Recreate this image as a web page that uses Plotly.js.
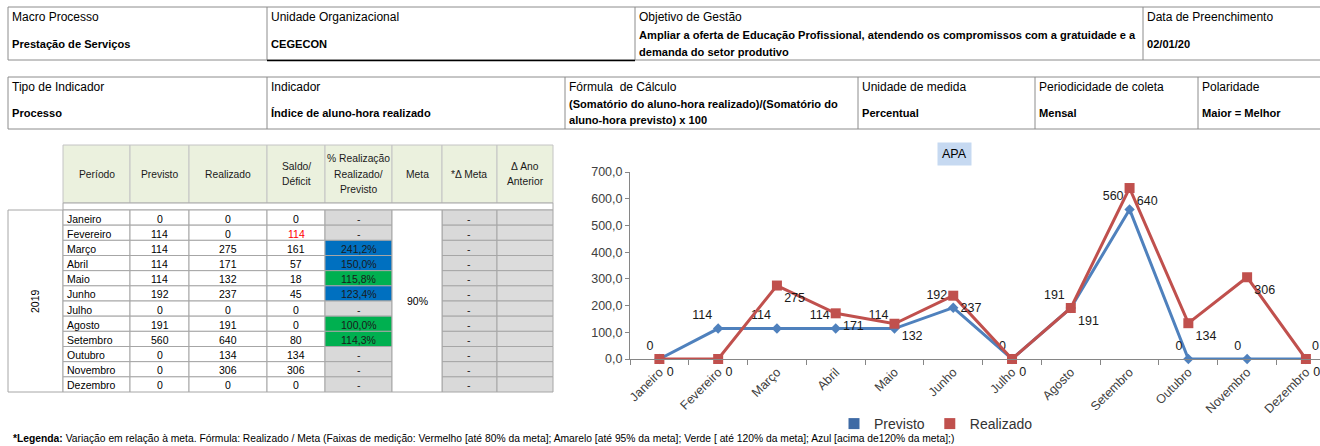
<!DOCTYPE html>
<html><head><meta charset="utf-8">
<script src="https://cdn.plot.ly/plotly-3.0.1.min.js"></script>
<style>html,body{margin:0;padding:0;background:#fff;overflow:hidden}#chart{width:1320px;height:446px}</style>
</head><body><div id="chart"></div>
<script>
// ---------- DATA ----------
const meses = ['Janeiro','Fevereiro','Março','Abril','Maio','Junho','Julho','Agosto','Setembro','Outubro','Novembro','Dezembro'];
const previsto  = [0,114,114,114,114,192,0,191,560,0,0,0];
const realizado = [0,0,275,171,132,237,0,191,640,134,306,0];
const saldo     = [0,114,161,57,18,45,0,0,80,134,306,0];
const saldoDeficit = [false,true,false,false,false,false,false,false,false,false,false,false];
const metaTexto = '90%';
const anoTexto = '2019';
const tituloGrafico = 'APA';
const nomesSeries = ['Previsto','Realizado'];
const cabecalhoTabela = [['Período'],['Previsto'],['Realizado'],['Saldo/','Déficit'],['% Realização','Realizado/','Previsto'],['Meta'],['*Δ Meta'],['Δ Ano','Anterior']];
const tabela1Rotulos = ['Macro Processo','Unidade Organizacional','Objetivo de Gestão','Data de Preenchimento'];
const tabela1Valores = [['Prestação de Serviços'],['CEGECON'],['Ampliar a oferta de Educação Profissional, atendendo os compromissos com a gratuidade e a','demanda do setor produtivo'],['02/01/20']];
const tabela2Rotulos = ['Tipo de Indicador','Indicador','Fórmula  de Cálculo','Unidade de medida','Periodicidade de coleta','Polaridade'];
const tabela2Valores = [['Processo'],['Índice de aluno-hora realizado'],['(Somatório do aluno-hora realizado)/(Somatório do','aluno-hora previsto) x 100'],['Percentual'],['Mensal'],['Maior = Melhor']];
const notaRodape = '<b>*Legenda:</b> Variação em relação à meta. Fórmula: Realizado / Meta (Faixas de medição: Vermelho [até 80% da meta]; Amarelo [até 95% da meta]; Verde [ até 120% da meta]; Azul [acima de120% da meta];)';

// ---------- LAYOUT HELPERS ----------
const W = 1320, H = 446;
const FONT = 'Liberation Sans, Arial, sans-serif';
const px = x => x / W;
const py = y => 1 - y / H;
const shapes = [];
const annotations = [];
function rect(x0, y0, x1, y1, fill, line, lw) {
  shapes.push({type:'rect', xref:'paper', yref:'paper', x0:px(x0), x1:px(x1), y0:py(y1), y1:py(y0),
    fillcolor: fill || 'rgba(0,0,0,0)', line:{color: line || 'rgba(0,0,0,0)', width: lw === undefined ? 1 : lw}, layer:'below'});
}
function hline(x0, x1, y, color, lw) {
  shapes.push({type:'line', xref:'paper', yref:'paper', x0:px(x0), x1:px(x1), y0:py(y), y1:py(y), line:{color, width:lw||1}, layer:'below'});
}
function vline(x, y0, y1, color, lw) {
  shapes.push({type:'line', xref:'paper', yref:'paper', x0:px(x), x1:px(x), y0:py(y0), y1:py(y1), line:{color, width:lw||1}, layer:'below'});
}
function txt(x, y, text, o) {
  o = o || {};
  const a = {xref:'paper', yref:'paper', x:px(x), y:py(y), text, showarrow:false,
    xanchor:o.xa || 'left', yanchor:'middle', align:o.align || 'left', textangle:o.angle || 0,
    font:{family:FONT, size:o.size || 11, color:o.color || '#000'}};
  annotations.push(a);
  return a;
}

// ---------- TOP TABLES ----------
const bordaTopo = '#8c8c8c';
const t1 = [8, 267, 635, 1143, 1330];
rect(8, 7, 1330, 60, null, bordaTopo, 1);
for (let i = 1; i < t1.length - 1; i++) vline(t1[i], 7, 60, bordaTopo, 1);
hline(267, 635, 60.5, '#000', 1.6);
tabela1Rotulos.forEach((t, i) => txt(t1[i] + 2, 17, t, {size:12}));
tabela1Valores.forEach((v, i) => {
  if (v.length === 1) txt(t1[i] + 2, 44, '<b>' + v[0] + '</b>', {size:11.1});
  else v.forEach((l, k) => txt(t1[i] + 2, 35 + k * 17, '<b>' + l + '</b>', {size:11.1}));
});
const t2 = [8, 267, 565, 858, 1035, 1198, 1330];
rect(8, 77, 1330, 129, null, bordaTopo, 1);
for (let i = 1; i < t2.length - 1; i++) vline(t2[i], 77, 129, bordaTopo, 1);
tabela2Rotulos.forEach((t, i) => txt(t2[i] + 2, 87, t, {size:12}));
tabela2Valores.forEach((v, i) => {
  if (v.length === 1) txt(t2[i] + 2, 113, '<b>' + v[0] + '</b>', {size:11.1});
  else v.forEach((l, k) => txt(t2[i] + 2, 104 + k * 16, '<b>' + l + '</b>', {size:11.1}));
});

// ---------- DATA TABLE ----------
const gc = '#a6a6a6';
const colX = [63, 130, 189, 267, 325, 392, 442, 497, 553];
const hTop = 145, hBot = 203, gBot = 210, bBot = 392;
const rowH = (bBot - gBot) / meses.length;
for (let c = 0; c < 8; c++) rect(colX[c], hTop, colX[c + 1], hBot, '#ebf1de', '#c4c4c4', 1);
cabecalhoTabela.forEach((lines, c) => {
  const cx = (colX[c] + colX[c + 1]) / 2;
  const n = lines.length, step = 15.5;
  lines.forEach((l, k) => txt(cx, 174 + (k - (n - 1) / 2) * step, l, {xa:'center', size:10.3, color:'#1a1a1a'}));
});
rect(colX[0], hBot, colX[8], gBot, '#fff', gc, 1);
rect(8, gBot, colX[0], bBot, '#fff', gc, 1);
txt(35, (gBot + bBot) / 2, anoTexto, {xa:'center', angle:-90, size:10.5});
meses.forEach((m, r) => {
  const y0 = gBot + r * rowH, y1 = y0 + rowH, yc = (y0 + y1) / 2 + 1;
  for (let c = 0; c < 4; c++) rect(colX[c], y0, colX[c + 1], y1, '#fff', gc, 1);
  let pFill = '#d9d9d9', pTxt = '-';
  if (previsto[r] > 0 && realizado[r] > 0) {
    const p = realizado[r] / previsto[r] * 100;
    pTxt = p.toFixed(1).replace('.', ',') + '%';
    pFill = p > 120 ? '#0070c0' : '#00b050';
  }
  rect(colX[4], y0, colX[5], y1, pFill, gc, 1);
  rect(colX[6], y0, colX[7], y1, '#d9d9d9', gc, 1);
  rect(colX[7], y0, colX[8], y1, '#dcdcdc', gc, 1);
  txt(colX[0] + 2, yc, m, {size:10.5});
  txt((colX[1] + colX[2]) / 2, yc, String(previsto[r]), {xa:'center', size:10.5});
  txt((colX[2] + colX[3]) / 2, yc, String(realizado[r]), {xa:'center', size:10.5});
  txt((colX[3] + colX[4]) / 2, yc, String(saldo[r]), {xa:'center', size:10.5, color: saldoDeficit[r] ? '#ff0000' : '#000'});
  txt((colX[4] + colX[5]) / 2, yc, pTxt, {xa:'center', size:10.5, color:'#1a1a1a'});
  txt((colX[6] + colX[7]) / 2, yc, '-', {xa:'center', size:10.5, color:'#1a1a1a'});
});
rect(colX[5], gBot, colX[6], bBot, '#fff', gc, 1);
txt((colX[5] + colX[6]) / 2, (gBot + bBot) / 2, metaTexto, {xa:'center', size:10.5});

// ---------- CHART ----------
const tit = txt(954, 153.5, tituloGrafico, {xa:'center', size:12.5});
tit.bgcolor = '#c6d9f1';
tit.borderpad = 4;
txt(11, 438.5, notaRodape, {size:10.3});

const azul = '#4f81bd', verm = '#c0504d';
const posPrevisto = meses.map((m, i) => i === meses.length - 1 ? 'top right' : 'top left');
const traces = [
  {x: meses, y: previsto, name: nomesSeries[0], type:'scatter', mode:'lines+markers+text', showlegend:false,
   text: previsto.map(String), textposition: posPrevisto, cliponaxis:false,
   textfont:{family:FONT, size:12.5, color:'#1a1a1a'},
   line:{color:azul, width:3}, marker:{symbol:'diamond', size:8, color:azul}, hoverinfo:'x+y'},
  {x: meses, y: realizado, name: nomesSeries[1], type:'scatter', mode:'lines+markers+text', showlegend:false,
   text: realizado.map(String), textposition:'bottom right', cliponaxis:false,
   textfont:{family:FONT, size:12.5, color:'#1a1a1a'},
   line:{color:verm, width:3}, marker:{symbol:'square', size:10, color:verm}, hoverinfo:'x+y'},
  {x:[null], y:[null], name: nomesSeries[0], type:'scatter', mode:'markers', marker:{symbol:'square', size:11, color:'#3e6aa5'}, showlegend:true},
  {x:[null], y:[null], name: nomesSeries[1], type:'scatter', mode:'markers', marker:{symbol:'square', size:11, color:verm}, showlegend:true}
];

const layout = {
  width: W, height: H, margin:{l:0, r:0, t:0, b:0}, paper_bgcolor:'#fff', plot_bgcolor:'rgba(0,0,0,0)',
  separators: ', ', font:{family:FONT, color:'#404040'},
  xaxis:{type:'category', domain:[px(630), 1], range:[-0.5, 11.24], showgrid:false, zeroline:false,
    showline:true, linecolor:'#868686', linewidth:1, ticks:'outside', tickson:'boundaries', ticklen:5, tickcolor:'#868686',
    tickangle:-45, tickfont:{family:FONT, size:12.5, color:'#404040'}, fixedrange:true},
  yaxis:{domain:[py(359), py(172)], range:[0, 700], dtick:100, tickformat:'.1f', showgrid:false, zeroline:false,
    showline:true, linecolor:'#868686', linewidth:1, ticks:'outside', ticklen:4, tickcolor:'#868686',
    tickfont:{family:FONT, size:12.5, color:'#404040'}, fixedrange:true},
  showlegend:true,
  legend:{orientation:'h', x:px(936), xanchor:'center', y:py(424), yanchor:'middle', font:{family:FONT, size:14, color:'#333'}, itemwidth:30, bgcolor:'rgba(0,0,0,0)'},
  shapes, annotations
};
Plotly.newPlot('chart', traces, layout, {displayModeBar:false, staticPlot:true});
</script></body></html>
